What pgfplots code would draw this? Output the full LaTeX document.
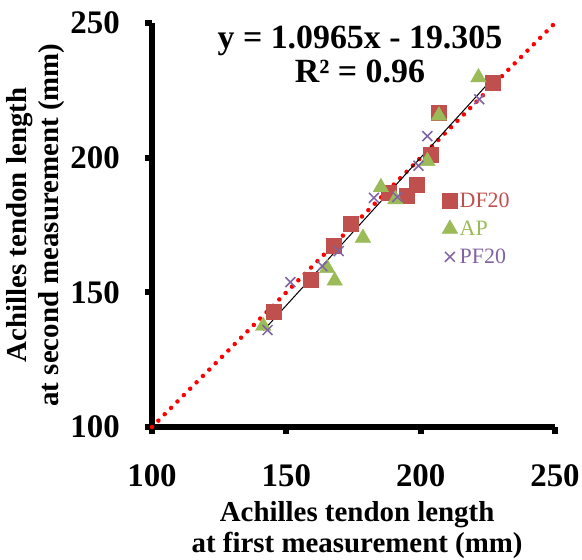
\documentclass[border=0pt]{standalone}
\usepackage{fontspec}
\setmainfont{Liberation Serif}
\usepackage{pgfplots}
\pgfplotsset{compat=1.18}
\definecolor{dfred}{RGB}{192,80,77}
\definecolor{apgreen}{RGB}{155,187,89}
\definecolor{pfpurple}{RGB}{128,100,162}

\begin{document}
\begin{tikzpicture}[x=1bp,y=1bp]
\useasboundingbox (-152,-133) rectangle (430,427);
\begin{axis}[
  at={(0,0)}, anchor=south west,
  scale only axis, width=403bp, height=404bp,
  xmin=100, xmax=250, ymin=100, ymax=250,
  axis lines=left, axis line style={-, line width=6bp},
  tick style={line width=6bp, black}, tick align=outside,
  major tick length=7bp,
  xtick={100,150,200,250}, xticklabels={100,150,200,250},
  ytick={100,150,200,250}, yticklabels={100,150,200,250},
  tick label style={font=\bfseries\fontsize{33}{33}\selectfont, inner sep=0pt},
  yticklabel style={anchor=east, xshift=-25bp},
  xticklabel style={anchor=north, yshift=-30bp},
  xlabel={Achilles tendon length\\at first measurement (mm)},
  ylabel={Achilles tendon length\\at second measurement (mm)},
  label style={font=\bfseries\fontsize{29}{32}\selectfont, align=center},
  xlabel style={at={(axis description cs:0.509,-0.255)}, anchor=center},
  ylabel style={at={(axis description cs:-0.288,0.5)}, anchor=center},
  legend style={at={(axis cs:206.8,188.5)}, anchor=north west, draw=none,
    fill=none, font=\fontsize{22}{24}\selectfont, row sep=8bp},
  legend cell align=left,
  clip=false,
]
% identity line
\addplot[red, line width=4.5bp, line cap=round, dash pattern=on 0.01bp off 9bp, forget plot]
  coordinates {(100,100) (250,250)};
% trend line y = 1.0965x - 19.305
\addplot[black, line width=1bp, forget plot]
  coordinates {(141.5,135.85) (227.2,229.83)};
\addplot[only marks, mark=square*, mark size=7.5bp, color=dfred]
  coordinates {(145.3,142.9) (159,154.7) (167.6,167.3) (173.9,175.5)
   (188.2,187) (194.7,185.7) (198.5,190) (203.7,201.2) (206.8,216.6)
   (226.8,227.9)};
\addlegendentry{\textcolor{dfred}{DF20}}
\addplot[only marks, mark=triangle*, mark size=9bp, color=apgreen]
  coordinates {(141.4,137.5) (165.2,159) (168,154.3) (178.5,170.2)
   (185.2,189) (190.6,184.5) (202.5,198.7) (206.8,215.6) (221.5,229.8)};
\addlegendentry{\textcolor{apgreen}{AP}}
\addplot[only marks, mark=x, mark size=7bp, color=pfpurple, mark options={line width=1.5bp}]
  coordinates {(143,136) (151.5,153.8) (163.4,159.7) (169.5,165.3)
   (182.6,185.1) (191.3,185.4) (199.2,197) (202.5,208) (221.8,221.7)};
\addlegendentry{\textcolor{pfpurple}{PF20}}
\node[font=\bfseries\fontsize{34}{35}\selectfont, align=center]
  at (axis cs:177.4,238.3) {y = 1.0965x - 19.305\\R² = 0.96};
\end{axis}
\end{tikzpicture}
\end{document}
